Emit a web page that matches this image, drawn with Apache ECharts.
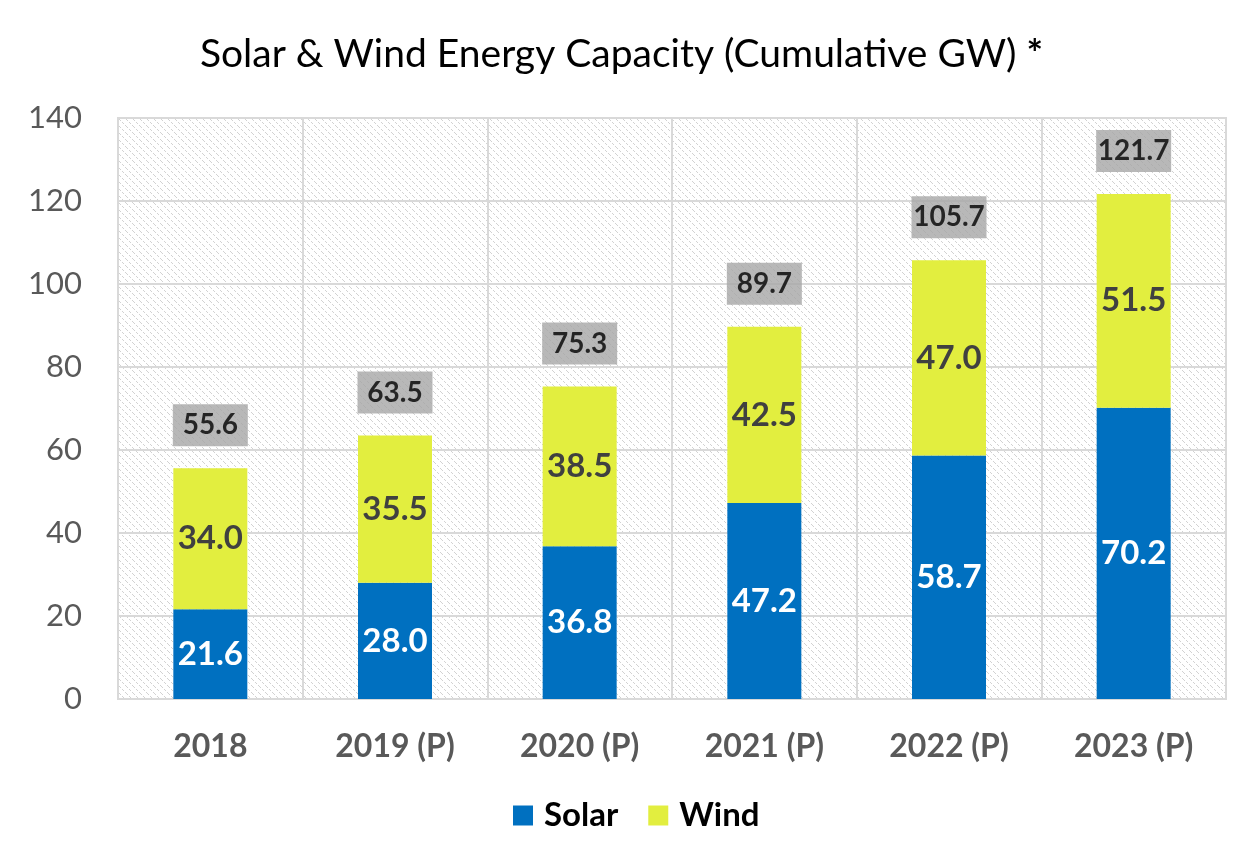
<!DOCTYPE html>
<html>
<head>
<meta charset="utf-8">
<script src="https://cdn.jsdelivr.net/npm/echarts@6/dist/echarts.min.js"></script>
<style>
  html, body { margin: 0; padding: 0; background: #fff; }
  #main { width: 1243px; height: 859px; }
</style>
</head>
<body>
<div id="main"></div>
<script>
var years = ['2018', '2019 (P)', '2020 (P)', '2021 (P)', '2022 (P)', '2023 (P)'];
var solar = [21.6, 28.0, 36.8, 47.2, 58.7, 70.2];
var wind = [34.0, 35.5, 38.5, 42.5, 47.0, 51.5];
var totals = [55.6, 63.5, 75.3, 89.7, 105.7, 121.7];

var font = 'Lato, "Open Sans", sans-serif';

// hatched plot background
function makeHatch() {
  var c = document.createElement('canvas');
  c.width = 7;
  c.height = 7;
  var ctx = c.getContext('2d');
  ctx.fillStyle = '#fff';
  ctx.fillRect(0, 0, 7, 7);
  ctx.fillStyle = '#d2d2d2';
  for (var i = 0; i < 7; i++) {
    if (i % 3 != 2) ctx.fillRect(i, i, 1, 1);
  }
  return c;
}

var myChart = echarts.init(document.getElementById('main'), null, { renderer: 'canvas' });

var option = {
  animation: false,
  title: {
    text: 'Solar & Wind Energy Capacity (Cumulative GW) {b|*}',
    left: 'center',
    top: 30,
    textStyle: {
      fontFamily: font, fontSize: 39, fontWeight: 'normal', color: '#000',
      rich: { b: { fontFamily: font, fontSize: 39, fontWeight: 'bold', color: '#000' } }
    }
  },
  legend: {
    data: ['Solar', 'Wind'],
    bottom: 22,
    left: 508,
    icon: 'rect',
    itemWidth: 20,
    itemHeight: 20,
    itemGap: 30,
    textStyle: { fontFamily: font, fontSize: 33, fontWeight: 'bold', color: '#000', padding: [0, 0, 0, 6] }
  },
  grid: {
    left: 118,
    right: 17,
    top: 118,
    bottom: 160,
    show: true,
    backgroundColor: { image: makeHatch(), repeat: 'repeat' },
    borderColor: '#d9d9d9',
    borderWidth: 2
  },
  xAxis: {
    type: 'category',
    data: years,
    axisLine: { lineStyle: { color: '#d9d9d9', width: 2 } },
    axisTick: { show: false },
    splitLine: { show: true, interval: 0, lineStyle: { color: '#d9d9d9', width: 2 } },
    axisLabel: { fontFamily: font, fontSize: 32, fontWeight: 'bold', color: '#595959', margin: 32 }
  },
  yAxis: {
    type: 'value',
    min: 0,
    max: 140,
    interval: 20,
    axisLine: { show: false },
    axisTick: { show: false },
    splitLine: { lineStyle: { color: '#d9d9d9', width: 2 } },
    axisLabel: { fontFamily: font, fontSize: 31, color: '#595959', margin: 36 }
  },
  series: [
    {
      name: 'Solar',
      type: 'bar',
      stack: 'cap',
      data: solar,
      barWidth: 74,
      itemStyle: { color: '#0070c0' },
      label: {
        show: true,
        position: 'inside',
        formatter: function (p) { return p.value.toFixed(1); },
        fontFamily: font, fontSize: 33, fontWeight: 'bold', color: '#fff'
      }
    },
    {
      name: 'Wind',
      type: 'bar',
      stack: 'cap',
      data: wind,
      barWidth: 74,
      itemStyle: { color: '#e2ee3f' },
      label: {
        show: true,
        position: 'inside',
        formatter: function (p) { return p.value.toFixed(1); },
        fontFamily: font, fontSize: 33, fontWeight: 'bold', color: '#404040'
      }
    },
    {
      name: 'Total',
      type: 'scatter',
      data: totals,
      symbolSize: 0,
      silent: true,
      label: {
        show: true,
        position: 'top',
        distance: 22,
        formatter: function (p) { return p.value.toFixed(1); },
        fontFamily: font, fontSize: 28, fontWeight: 'bold', color: '#000',
        backgroundColor: '#a6a6a6',
        width: 75,
        height: 42,
        lineHeight: 42,
        align: 'center'
      }
    }
  ]
};

myChart.setOption(option);
window.addEventListener('resize', myChart.resize);
</script>
</body>
</html>
